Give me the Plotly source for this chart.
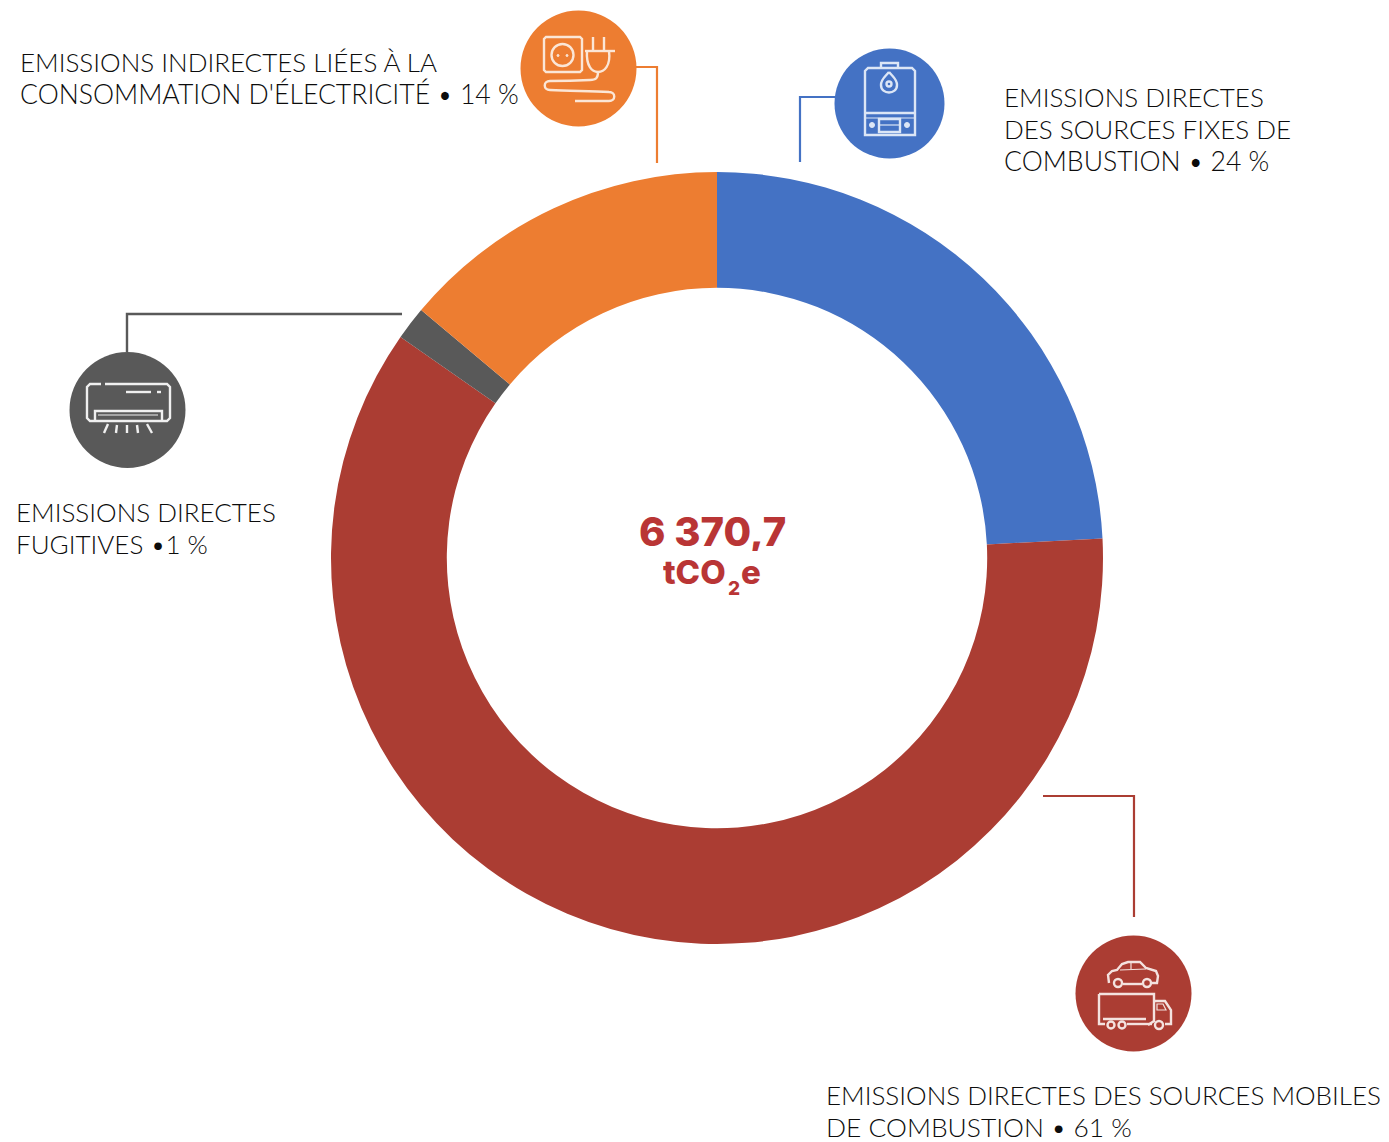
import plotly.graph_objects as go

W, H = 1389, 1142

# Data
categories = ["Sources fixes de combustion", "Sources mobiles de combustion", "Fugitives", "Électricité"]
shares_drawn = [24.2, 60.5, 1.4, 13.9]
colors = ["#4472C4", "#AB3D33", "#595959", "#ED7D31"]
total_label = "6 370,7"
unit_parts = ["tCO", "2", "e"]

label_texts = [
    "EMISSIONS INDIRECTES LIÉES À LA",
    "CONSOMMATION D'ÉLECTRICITÉ • 14 %",
    "EMISSIONS DIRECTES",
    "DES SOURCES FIXES DE",
    "COMBUSTION • 24 %",
    "EMISSIONS DIRECTES",
    "FUGITIVES •1 %",
    "EMISSIONS DIRECTES DES SOURCES MOBILES",
    "DE COMBUSTION • 61 %",
]
# Layout of the label lines: left edge, vertical centre, font size
label_layout = [
    (18, 61.5, 26), (18, 93.5, 26.6),
    (1002, 97.5, 26), (1002, 129.5, 26), (1002, 161.5, 26.6),
    (14, 511.5, 26), (14, 543.5, 26),
    (824, 1094.5, 26), (824, 1126.5, 26.4),
]

CX, CY, R = 717, 558, 386


def px(x):
    return x / W


def py(y):
    return 1 - y / H


def path(points, close=False):
    s = "M " + " L ".join(f"{px(x):.5f},{py(y):.5f}" for x, y in points)
    return s + (" Z" if close else "")


def curve(p0, *segs):
    s = f"M {px(p0[0]):.5f},{py(p0[1]):.5f}"
    for a, b, c in segs:
        s += " C " + " ".join(f"{px(q[0]):.5f},{py(q[1]):.5f}" for q in (a, b, c))
    return s


shapes = []


def line(points, color, width=2.4, close=False):
    shapes.append(dict(type="path", xref="paper", yref="paper", path=path(points, close),
                       line=dict(color=color, width=width)))


def cpath(p0, segs, color, width=2.4):
    shapes.append(dict(type="path", xref="paper", yref="paper", path=curve(p0, *segs),
                       line=dict(color=color, width=width)))


def circle(cx, cy, r, fill=None, color=None, width=2.4):
    shapes.append(dict(type="circle", xref="paper", yref="paper",
                       x0=px(cx - r), x1=px(cx + r), y0=py(cy + r), y1=py(cy - r),
                       fillcolor=fill if fill else "rgba(0,0,0,0)",
                       line=dict(color=color if color else "rgba(0,0,0,0)", width=width)))


# Leader lines
line([(636, 67), (657, 67), (657, 163)], colors[3], width=2.2)
line([(800, 162), (800, 97), (835, 97)], colors[0], width=2.2)
line([(127, 352), (127, 314), (402, 314)], colors[2], width=2.4)
line([(1043, 796), (1134, 796), (1134, 917)], colors[1], width=2.2)

# Icon discs
circle(578.5, 68.5, 58, fill=colors[3])
circle(889.5, 103.5, 55, fill=colors[0])
circle(127.5, 410, 58, fill=colors[2])
circle(1133.5, 993.5, 58, fill=colors[1])

# Electricity icon
ic = "#FBE6D6"
line([(546, 37), (580, 37), (582, 39), (582, 70), (580, 72), (546, 72), (544, 70), (544, 39)], ic, close=True)
circle(562.5, 55, 11, color=ic)
circle(558, 55.5, 1, fill=ic, color=ic, width=1)
circle(567, 55.5, 1, fill=ic, color=ic, width=1)
line([(593, 37), (593, 51)], ic)
line([(604, 37), (604, 51)], ic)
line([(585, 51), (615, 51)], ic)
cpath((587, 51), [((586, 66), (592, 72), (598, 72)), ((604, 72), (611, 66), (609, 51))], ic)
cpath((598, 72), [((598, 78), (596, 80), (590, 80))], ic)
cpath((590, 80), [((570, 81), (560, 81), (550, 81)), ((543, 81), (543, 90), (550, 90)),
                  ((570, 91), (590, 91), (609, 92)), ((616, 92), (616, 101), (609, 101))], ic)
line([(609, 101), (575, 101)], ic)

# Boiler icon
ib = "#DCE6F6"
line([(868, 68), (912, 68), (915, 71), (915, 135), (865, 135), (865, 71)], ib, close=True)
line([(881, 68), (881, 63), (898, 63), (898, 68)], ib)
line([(865, 113), (915, 113)], ib)
line([(865, 118), (915, 118)], ib, width=1.2)
line([(879, 119), (900, 119), (900, 132), (879, 132)], ib, close=True)
line([(879, 125), (900, 125)], ib, width=1.2)
circle(872, 125, 2.5, fill=ib, color=ib, width=1)
circle(907, 125, 2.5, fill=ib, color=ib, width=1)
cpath((889, 72), [((885, 77), (881, 79), (881, 85)), ((881, 95), (897, 95), (897, 85)),
                  ((897, 79), (893, 77), (889, 72))], ib)
circle(889, 84, 2.5, color=ib)

# Air conditioner icon
ia = "#F0F0F0"
line([(101, 384), (90, 384), (87, 387), (87, 418), (90, 421), (167, 421), (170, 418), (170, 387), (167, 384), (105, 384)], ia)
line([(95, 421), (95, 411), (162, 411), (162, 421)], ia)
line([(98, 415), (158, 415)], ia, width=1.2)
line([(126, 392), (151, 392)], ia)
line([(157, 392), (161, 392)], ia)
line([(108, 424), (104, 433)], ia)
line([(117, 425), (116, 433)], ia)
line([(127, 425), (127, 433)], ia)
line([(137, 425), (138, 433)], ia)
line([(147, 424), (152, 433)], ia)

# Vehicles icon
iv = "#F4E2DF"
line([(1109, 983), (1108, 975), (1112, 971), (1117, 970), (1122, 964), (1128, 962), (1140, 962),
      (1146, 968), (1156, 971), (1158, 976), (1157, 983), (1152, 983)], iv)
line([(1123, 984), (1142, 984)], iv)
line([(1120, 970), (1146, 969)], iv, width=1.2)
line([(1131, 963), (1131, 969)], iv, width=1.2)
circle(1118, 983, 4, color=iv)
circle(1147, 983, 4, color=iv)
line([(1099, 994), (1154, 994), (1154, 1021), (1148, 1025)], iv)
line([(1099, 994), (1099, 1024), (1105, 1024)], iv)
line([(1103, 1019), (1146, 1019)], iv)
line([(1154, 1001), (1165, 1001), (1171, 1010), (1171, 1024), (1165, 1024)], iv)
line([(1157, 1004), (1163, 1004), (1166, 1010), (1157, 1010)], iv, width=1.2, close=True)
line([(1127, 1024), (1152, 1024)], iv)
circle(1111, 1025, 3.5, color=iv)
circle(1122, 1025, 3.5, color=iv)
circle(1159, 1025, 4, color=iv)

annotations = [
    dict(x=px(x), y=py(y), xref="paper", yref="paper", text=t, showarrow=False,
         xanchor="left", yanchor="middle", align="left",
         font=dict(family="Lato", size=s, color="#0c0c0c", weight=300))
    for (x, y, s), t in zip(label_layout, label_texts)
]


def center_text(x, y, text, size, height):
    return dict(x=px(x), y=py(y), xref="paper", yref="paper", text=text, showarrow=False,
                xanchor="left", yanchor="middle", height=height, borderpad=0,
                font=dict(family="Inter", size=size, color="#B93535", weight=800))


annotations += [
    dict(center_text(712, 531, total_label, 40, 40), xanchor="center"),
    center_text(662, 572, unit_parts[0], 33, 30),
    center_text(727, 588, unit_parts[1], 19, 16),
    center_text(740, 572, unit_parts[2], 33, 30),
]

fig = go.Figure(go.Pie(
    labels=categories,
    values=shares_drawn,
    marker=dict(colors=colors, line=dict(width=0)),
    hole=0.70,
    sort=False,
    direction="clockwise",
    rotation=0,
    textinfo="none",
    domain=dict(x=[px(CX - R), px(CX + R)], y=[py(CY + R), py(CY - R)]),
    showlegend=False,
))
fig.update_layout(width=W, height=H, margin=dict(l=0, r=0, t=0, b=0),
                  paper_bgcolor="white", plot_bgcolor="white",
                  shapes=shapes, annotations=annotations)
fig.write_html("out.html", config=dict(displayModeBar=False),
               post_script="document.body.style.margin='0';document.body.style.overflow='hidden';")
